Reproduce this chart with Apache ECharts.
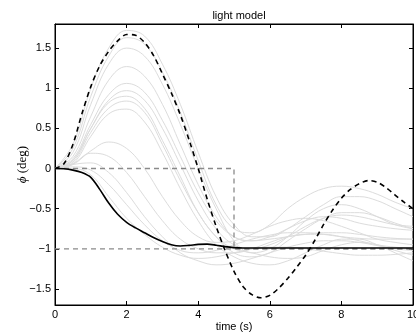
<!DOCTYPE html>
<html>
<head>
<meta charset="utf-8">
<script src="https://cdn.jsdelivr.net/npm/echarts@6/dist/echarts.min.js"></script>
<style>
html,body{margin:0;padding:0;background:#fff;}
#c{width:416px;height:333px;}
</style>
</head>
<body>
<div id="c"></div>
<script>
var timeGrid = [0,0.5,1,1.5,2,2.5,3,3.5,4,4.5,5,5.5,6,6.5,7,7.5,8,8.5,9,9.5,10];
var fineGrid = [0,0.25,0.5,0.75,1,1.25,1.5,1.75,2,2.25,2.5,2.75,3,3.25,3.5,3.75,4,4.25,4.5,4.75,5,5.25,5.5,5.75,6,6.25,6.5,6.75,7,7.25,7.5,7.75,8,8.25,8.5,8.75,9,9.25,9.5,9.75,10];
var xTicks = [0,2,4,6,8,10];
var yTicks = [-1.5,-1,-0.5,0,0.5,1,1.5];

var dashedBlack = [0,0.06,0.3,0.68,1.02,1.28,1.46,1.59,1.67,1.66,1.57,1.41,1.18,0.94,0.67,0.35,0.0,-0.38,-0.72,-1.02,-1.28,-1.47,-1.57,-1.61,-1.58,-1.49,-1.37,-1.23,-1.08,-0.9,-0.7,-0.52,-0.37,-0.26,-0.19,-0.15,-0.17,-0.24,-0.33,-0.42,-0.5];
var solidBlack = [0,-0.003,-0.02,-0.05,-0.11,-0.26,-0.43,-0.57,-0.67,-0.74,-0.8,-0.86,-0.91,-0.95,-0.965,-0.957,-0.945,-0.942,-0.955,-0.973,-0.985,-0.99,-0.99,-0.99,-0.99,-0.99,-0.99,-0.99,-0.99,-0.99,-0.99,-0.99,-0.99,-0.99,-0.99,-0.99,-0.99,-0.99,-0.99,-0.99,-0.99];

var stepUpperT = [0,5,5,10];
var stepUpperV = [0,0,-1,-1];
var stepLowerT = [0,10];
var stepLowerV = [-1,-1];

var gray1  = [0,0.3,1.0,1.5,1.72,1.65,1.3,0.8,0.2,-0.35,-0.7,-0.85,-0.85,-0.75,-0.6,-0.45,-0.35,-0.35,-0.4,-0.5,-0.6];
var gray2  = [0,0.25,0.9,1.4,1.63,1.55,1.2,0.7,0.1,-0.45,-0.75,-0.8,-0.7,-0.5,-0.35,-0.25,-0.22,-0.25,-0.32,-0.42,-0.5];
var gray3  = [0,0.2,0.8,1.3,1.5,1.4,1.05,0.55,0.0,-0.5,-0.9,-1.05,-1.0,-0.85,-0.65,-0.5,-0.45,-0.5,-0.6,-0.7,-0.75];
var gray4  = [0,0.15,0.65,1.1,1.27,1.15,0.8,0.3,-0.2,-0.6,-0.85,-0.9,-0.85,-0.75,-0.65,-0.6,-0.62,-0.68,-0.72,-0.75,-0.77];
var gray5  = [0,0.12,0.55,0.92,1.06,0.95,0.6,0.15,-0.3,-0.65,-0.85,-0.9,-0.88,-0.85,-0.82,-0.8,-0.8,-0.82,-0.85,-0.87,-0.88];
var gray6  = [0,0.1,0.5,0.85,0.97,0.85,0.5,0.05,-0.4,-0.75,-0.95,-1.0,-0.95,-0.85,-0.72,-0.62,-0.58,-0.6,-0.65,-0.7,-0.72];
var gray7  = [0,0.1,0.5,0.82,0.9,0.75,0.35,-0.1,-0.55,-0.85,-1.05,-1.1,-1.05,-0.9,-0.75,-0.62,-0.55,-0.55,-0.6,-0.68,-0.75];
var gray8  = [0,0.08,0.45,0.75,0.84,0.7,0.3,-0.15,-0.55,-0.85,-1.0,-1.05,-1.1,-1.12,-1.1,-1.02,-0.95,-0.92,-0.95,-1.02,-1.08];
var gray9  = [0,0.06,0.4,0.68,0.74,0.58,0.2,-0.25,-0.65,-0.95,-1.1,-1.18,-1.2,-1.15,-1.05,-0.95,-0.88,-0.88,-0.95,-1.05,-1.15];
var gray10 = [0,0.05,0.22,0.33,0.25,0.0,-0.35,-0.65,-0.85,-0.92,-0.9,-0.82,-0.72,-0.65,-0.62,-0.65,-0.72,-0.8,-0.88,-0.92,-0.95];
var gray11 = [0,0.06,0.19,0.15,-0.05,-0.35,-0.65,-0.88,-1.0,-1.05,-1.05,-1.0,-0.92,-0.85,-0.82,-0.82,-0.85,-0.9,-0.95,-0.98,-1.0];
var gray12 = [0,0.05,0.07,-0.05,-0.3,-0.6,-0.85,-1.05,-1.15,-1.2,-1.18,-1.12,-1.05,-0.98,-0.93,-0.9,-0.9,-0.92,-0.96,-1.0,-1.02];
var gray13 = [0,0.0,-0.08,-0.35,-0.62,-0.82,-0.98,-1.08,-1.12,-1.1,-1.05,-1.0,-0.98,-0.98,-1.0,-1.03,-1.06,-1.08,-1.08,-1.07,-1.05];
var gray14 = [0,0.02,-0.02,-0.2,-0.45,-0.7,-0.9,-1.02,-1.05,-1.02,-0.95,-0.88,-0.83,-0.8,-0.8,-0.82,-0.85,-0.87,-0.88,-0.88,-0.88];

var grayList = [gray1,gray2,gray3,gray4,gray5,gray6,gray7,gray8,gray9,gray10,gray11,gray12,gray13,gray14];

function pairs(ts, vs){ return ts.map(function(t,i){ return [t, vs[i]]; }); }

var series = [];
grayList.forEach(function(g){
  series.push({type:'line', data:pairs(timeGrid,g), smooth:0.4, symbol:'none',
    lineStyle:{color:'#dcdcdc', width:1}, silent:true, z:1});
});
series.push({type:'line', data:pairs(stepUpperT,stepUpperV), symbol:'none',
  lineStyle:{color:'#8a8a8a', width:1.3, type:[5,4]}, z:2});
series.push({type:'line', data:pairs(stepLowerT,stepLowerV), symbol:'none',
  lineStyle:{color:'#8a8a8a', width:1.3, type:[5,4]}, z:2});
series.push({type:'line', data:pairs(fineGrid,solidBlack), smooth:0.3, symbol:'none',
  lineStyle:{color:'#000', width:1.6}, z:3});
series.push({type:'line', data:pairs(fineGrid,dashedBlack), smooth:0.3, symbol:'none',
  lineStyle:{color:'#000', width:1.6, type:[5,4]}, z:3});

function fmtY(v){
  if (Math.abs(v*2 - Math.round(v*2)) > 1e-6) return '';
  return String(v).replace('-', '\u2212');
}

var font = 'Liberation Sans, Arial, sans-serif';
var chart = echarts.init(document.getElementById('c'), null, {renderer:'canvas'});
chart.setOption({
  animation:false,
  backgroundColor:'#fff',
  title:{text:'light model', left:234, top:5, textAlign:'center',
    textStyle:{fontFamily:font, fontSize:11, fontWeight:'normal', color:'#000'}},
  grid:{left:55, top:24, right:3, bottom:28, show:true, borderColor:'#000', borderWidth:1,
    containLabel:false, outerBoundsMode:'none'},
  xAxis:[{
    type:'value', min:0, max:10, interval:2,
    name:'time (s)', nameLocation:'middle', nameGap:16, nameMoveOverlap:false,
    nameTextStyle:{fontFamily:font, fontSize:11, color:'#000'},
    axisLine:{onZero:false, lineStyle:{color:'#000', width:1}},
    axisTick:{inside:true, length:4, lineStyle:{color:'#000'}},
    axisLabel:{margin:4, fontFamily:font, fontSize:11, color:'#000'},
    splitLine:{show:false}
  },{
    type:'value', min:0, max:10, interval:2, position:'top',
    axisLine:{show:true, onZero:false, lineStyle:{color:'#000'}},
    axisTick:{inside:true, length:4, lineStyle:{color:'#000'}},
    axisLabel:{show:false}, splitLine:{show:false}
  }],
  yAxis:[{
    type:'value', min:-1.7, max:1.8, splitNumber:7,
    name:'{p|\u03d5} (deg)', nameLocation:'middle', nameGap:26, nameRotate:90, nameMoveOverlap:false,
    nameTextStyle:{fontFamily:'Liberation Serif, DejaVu Serif, serif', fontSize:13, color:'#000',
      rich:{p:{fontFamily:'Liberation Serif, DejaVu Serif, serif', fontStyle:'italic', fontSize:13, color:'#000'}}},
    axisLine:{onZero:false, lineStyle:{color:'#000', width:1}},
    axisTick:{inside:true, length:4, lineStyle:{color:'#000'}},
    axisLabel:{margin:4, showMinLabel:false, showMaxLabel:false, formatter:fmtY,
      fontFamily:font, fontSize:11, color:'#000'},
    splitLine:{show:false}
  },{
    type:'value', min:-1.7, max:1.8, splitNumber:7, position:'right',
    axisLine:{show:true, onZero:false, lineStyle:{color:'#000'}},
    axisTick:{inside:true, length:4, lineStyle:{color:'#000'}},
    axisLabel:{show:false}, splitLine:{show:false}
  }],
  series:series
});
</script>
</body>
</html>
